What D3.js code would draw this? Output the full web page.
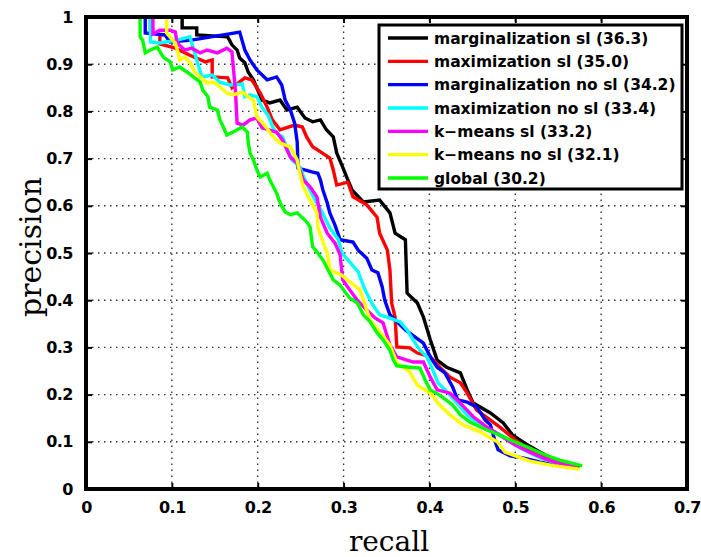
<!DOCTYPE html>
<html>
<head>
<meta charset="utf-8">
<script src="https://cdn.jsdelivr.net/npm/d3@7"></script>
<style>
  html, body { margin: 0; padding: 0; background: #fff; }
  svg { display: block; }
</style>
</head>
<body>
<svg id="chart" width="701" height="557"></svg>
<script>
// Precision-recall curves, one [recall, precision] list per method.
const margSl = [[0,1],[0.112,1],[0.112,0.977],[0.129,0.977],[0.129,0.962],[0.165,0.958],[0.170,0.941],[0.176,0.930],[0.179,0.913],[0.185,0.903],[0.189,0.883],[0.195,0.867],[0.200,0.845],[0.205,0.824],[0.214,0.818],[0.226,0.824],[0.234,0.803],[0.246,0.809],[0.255,0.786],[0.264,0.778],[0.273,0.782],[0.280,0.761],[0.288,0.746],[0.292,0.712],[0.298,0.686],[0.304,0.659],[0.310,0.633],[0.323,0.608],[0.342,0.612],[0.354,0.585],[0.360,0.542],[0.372,0.528],[0.374,0.415],[0.386,0.394],[0.393,0.364],[0.401,0.316],[0.409,0.273],[0.420,0.258],[0.436,0.246],[0.444,0.210],[0.451,0.182],[0.471,0.161],[0.486,0.140],[0.497,0.114],[0.511,0.097],[0.529,0.078],[0.546,0.061],[0.564,0.051],[0.575,0.047]];
const maxSl = [[0,1],[0.075,1],[0.075,0.972],[0.086,0.962],[0.086,0.943],[0.104,0.934],[0.121,0.919],[0.139,0.905],[0.147,0.909],[0.147,0.873],[0.165,0.871],[0.170,0.850],[0.185,0.871],[0.193,0.867],[0.203,0.839],[0.211,0.809],[0.217,0.782],[0.226,0.761],[0.243,0.771],[0.252,0.767],[0.257,0.746],[0.264,0.725],[0.275,0.712],[0.284,0.701],[0.288,0.676],[0.292,0.644],[0.305,0.650],[0.311,0.619],[0.327,0.602],[0.339,0.576],[0.342,0.542],[0.351,0.506],[0.354,0.464],[0.356,0.394],[0.360,0.364],[0.362,0.301],[0.377,0.299],[0.386,0.288],[0.401,0.280],[0.412,0.258],[0.424,0.237],[0.436,0.225],[0.444,0.203],[0.455,0.167],[0.471,0.146],[0.482,0.131],[0.500,0.104],[0.517,0.083],[0.535,0.066],[0.552,0.055],[0.573,0.047]];
const margNoSl = [[0,1],[0.069,1],[0.069,0.966],[0.092,0.962],[0.098,0.947],[0.123,0.951],[0.179,0.968],[0.185,0.930],[0.191,0.909],[0.199,0.888],[0.211,0.867],[0.222,0.873],[0.228,0.856],[0.232,0.824],[0.238,0.803],[0.243,0.775],[0.246,0.735],[0.247,0.680],[0.263,0.672],[0.270,0.669],[0.273,0.655],[0.276,0.633],[0.281,0.606],[0.284,0.585],[0.290,0.559],[0.296,0.528],[0.311,0.523],[0.317,0.506],[0.327,0.489],[0.333,0.464],[0.340,0.458],[0.345,0.428],[0.348,0.400],[0.354,0.369],[0.372,0.337],[0.393,0.309],[0.401,0.280],[0.409,0.258],[0.418,0.246],[0.427,0.216],[0.433,0.189],[0.444,0.184],[0.455,0.174],[0.465,0.146],[0.471,0.136],[0.476,0.104],[0.480,0.083],[0.494,0.070],[0.509,0.066],[0.529,0.057],[0.552,0.049],[0.570,0.045]];
const maxNoSl = [[0,1],[0.075,1],[0.075,0.947],[0.086,0.945],[0.106,0.951],[0.121,0.958],[0.129,0.909],[0.135,0.873],[0.147,0.877],[0.156,0.862],[0.168,0.856],[0.182,0.858],[0.185,0.831],[0.191,0.835],[0.199,0.831],[0.205,0.809],[0.212,0.792],[0.218,0.765],[0.222,0.754],[0.229,0.746],[0.235,0.718],[0.240,0.697],[0.249,0.682],[0.255,0.655],[0.261,0.633],[0.267,0.612],[0.275,0.587],[0.284,0.553],[0.294,0.528],[0.298,0.500],[0.307,0.481],[0.317,0.460],[0.325,0.422],[0.334,0.390],[0.342,0.369],[0.354,0.362],[0.366,0.354],[0.374,0.337],[0.381,0.316],[0.389,0.294],[0.397,0.280],[0.404,0.252],[0.410,0.225],[0.424,0.199],[0.436,0.174],[0.444,0.157],[0.459,0.136],[0.476,0.121],[0.494,0.104],[0.505,0.087],[0.529,0.066],[0.552,0.053],[0.573,0.045]];
const kmeansSl = [[0,1],[0.078,1],[0.078,0.964],[0.086,0.972],[0.098,0.972],[0.104,0.968],[0.106,0.945],[0.115,0.930],[0.123,0.934],[0.133,0.924],[0.141,0.930],[0.153,0.924],[0.164,0.934],[0.170,0.926],[0.174,0.845],[0.176,0.775],[0.183,0.771],[0.191,0.782],[0.199,0.786],[0.205,0.765],[0.222,0.756],[0.229,0.739],[0.238,0.703],[0.246,0.691],[0.253,0.655],[0.261,0.640],[0.269,0.619],[0.273,0.576],[0.281,0.542],[0.290,0.521],[0.296,0.496],[0.299,0.443],[0.307,0.422],[0.316,0.400],[0.327,0.379],[0.337,0.362],[0.346,0.352],[0.354,0.305],[0.362,0.280],[0.381,0.269],[0.393,0.269],[0.401,0.237],[0.409,0.210],[0.424,0.203],[0.436,0.182],[0.451,0.153],[0.467,0.131],[0.482,0.114],[0.500,0.093],[0.517,0.078],[0.535,0.064],[0.552,0.053],[0.573,0.045]];
const kmeansNoSl = [[0,1],[0.094,1],[0.094,0.966],[0.104,0.945],[0.107,0.926],[0.109,0.909],[0.115,0.915],[0.121,0.903],[0.127,0.883],[0.133,0.873],[0.141,0.860],[0.148,0.862],[0.156,0.852],[0.164,0.839],[0.171,0.835],[0.182,0.841],[0.191,0.828],[0.195,0.824],[0.199,0.788],[0.206,0.775],[0.218,0.746],[0.226,0.733],[0.238,0.725],[0.246,0.697],[0.249,0.669],[0.253,0.640],[0.261,0.612],[0.269,0.585],[0.270,0.555],[0.275,0.528],[0.281,0.500],[0.284,0.464],[0.298,0.453],[0.307,0.439],[0.319,0.422],[0.325,0.390],[0.331,0.358],[0.342,0.333],[0.354,0.305],[0.362,0.267],[0.377,0.248],[0.386,0.220],[0.401,0.203],[0.412,0.178],[0.424,0.157],[0.439,0.136],[0.459,0.121],[0.479,0.100],[0.488,0.078],[0.500,0.070],[0.517,0.059],[0.546,0.049],[0.575,0.042]];
const globalPr = [[0,1],[0.063,1],[0.063,0.958],[0.066,0.951],[0.069,0.924],[0.075,0.930],[0.083,0.936],[0.090,0.915],[0.098,0.905],[0.101,0.888],[0.109,0.894],[0.118,0.883],[0.125,0.873],[0.133,0.862],[0.136,0.845],[0.142,0.831],[0.144,0.809],[0.153,0.803],[0.156,0.782],[0.160,0.767],[0.164,0.750],[0.171,0.756],[0.182,0.767],[0.188,0.756],[0.189,0.733],[0.191,0.712],[0.195,0.697],[0.199,0.676],[0.203,0.661],[0.211,0.669],[0.214,0.655],[0.222,0.627],[0.226,0.606],[0.232,0.587],[0.238,0.581],[0.246,0.585],[0.257,0.566],[0.261,0.555],[0.264,0.513],[0.270,0.500],[0.276,0.485],[0.282,0.464],[0.288,0.443],[0.296,0.432],[0.302,0.417],[0.307,0.405],[0.316,0.394],[0.323,0.369],[0.331,0.354],[0.339,0.331],[0.346,0.316],[0.354,0.294],[0.358,0.273],[0.362,0.261],[0.377,0.258],[0.389,0.256],[0.395,0.231],[0.401,0.210],[0.412,0.199],[0.427,0.178],[0.436,0.157],[0.447,0.142],[0.467,0.125],[0.482,0.114],[0.494,0.104],[0.514,0.089],[0.535,0.072],[0.552,0.061],[0.578,0.049]];

// Legend entries, in plotting order.
const seriesNames = ["marginalization sl (36.3)", "maximization sl (35.0)", "marginalization no sl (34.2)", "maximization no sl (33.4)", "k\u2212means sl (33.2)", "k\u2212means no sl (32.1)", "global (30.2)"];
const seriesData = [margSl, maxSl, margNoSl, maxNoSl, kmeansSl, kmeansNoSl, globalPr];
const seriesColors = ["#000000", "#ff0000", "#0000ff", "#00ffff", "#ff00ff", "#ffff00", "#00ff00"];

const xTicks = [0, 0.1, 0.2, 0.3, 0.4, 0.5, 0.6, 0.7];
const xTickLabels = ["0", "0.1", "0.2", "0.3", "0.4", "0.5", "0.6", "0.7"];
const yTicks = [0, 0.1, 0.2, 0.3, 0.4, 0.5, 0.6, 0.7, 0.8, 0.9, 1];
const yTickLabels = ["0", "0.1", "0.2", "0.3", "0.4", "0.5", "0.6", "0.7", "0.8", "0.9", "1"];

const svg = d3.select("#chart");
const L = 86, R = 687, T = 17, B = 489;

const x = d3.scaleLinear().domain([0, 0.7]).range([L, R]);
const y = d3.scaleLinear().domain([0, 1]).range([B, T]);

const tickFont = "bold 16px 'DejaVu Sans', sans-serif";

// dotted grid
const grid = svg.append("g").attr("stroke", "#333").attr("stroke-width", 1.4)
  .attr("stroke-dasharray", "1.5,4.5");
grid.selectAll("line.gx").data(xTicks.slice(1, -1)).join("line").attr("class", "gx")
  .attr("x1", d => x(d)).attr("x2", d => x(d)).attr("y1", B).attr("y2", T);
grid.selectAll("line.gy").data(yTicks.slice(1, -1)).join("line").attr("class", "gy")
  .attr("y1", d => y(d)).attr("y2", d => y(d)).attr("x1", L).attr("x2", R);

// curves
const line = d3.line().x(d => x(d[0])).y(d => y(d[1]));
svg.append("g").attr("fill", "none").attr("stroke-width", 3.4)
  .attr("stroke-linejoin", "miter").attr("stroke-miterlimit", 2)
  .selectAll("path").data(seriesData).join("path")
  .attr("stroke", (d, i) => seriesColors[i])
  .attr("d", line);

// axes with inward ticks on all four sides
const axisB = d3.axisBottom(x).tickValues(xTicks).tickFormat((d, i) => xTickLabels[i])
  .tickSizeInner(-6).tickSizeOuter(0).tickPadding(13);
const axisT = d3.axisTop(x).tickValues(xTicks).tickFormat("").tickSizeInner(-6).tickSizeOuter(0);
const axisL = d3.axisLeft(y).tickValues(yTicks).tickFormat((d, i) => yTickLabels[i])
  .tickSizeInner(-6).tickSizeOuter(0).tickPadding(13);
const axisR = d3.axisRight(y).tickValues(yTicks).tickFormat("").tickSizeInner(-6).tickSizeOuter(0);

function styleAxis(g) {
  g.select(".domain").remove();
  g.selectAll(".tick line").attr("stroke", "#000").attr("stroke-width", 2);
  g.selectAll(".tick text").style("font", tickFont).attr("fill", "#000")
    .attr("letter-spacing", "-0.5");
}
svg.append("g").attr("transform", `translate(0,${B})`).call(axisB).call(styleAxis);
svg.append("g").attr("transform", `translate(0,${T})`).call(axisT).call(styleAxis);
svg.append("g").attr("transform", `translate(${L},0)`).call(axisL).call(styleAxis);
svg.append("g").attr("transform", `translate(${R},0)`).call(axisR).call(styleAxis);

// frame
svg.append("rect").attr("x", L).attr("y", T).attr("width", R - L).attr("height", B - T)
  .attr("fill", "none").attr("stroke", "#000").attr("stroke-width", 4);

// axis titles
svg.append("text").attr("x", 389).attr("y", 551).attr("text-anchor", "middle")
  .style("font", "28px 'DejaVu Serif', serif").text("recall");
svg.append("text").attr("transform", "translate(41,247) rotate(-90)").attr("text-anchor", "middle")
  .style("font", "30px 'DejaVu Serif', serif").text("precision");

// legend
const lg = svg.append("g");
lg.append("rect").attr("x", 379).attr("y", 25).attr("width", 303).attr("height", 164)
  .attr("fill", "#fff").attr("stroke", "#000").attr("stroke-width", 3);
const rowY = d3.scaleLinear().domain([0, 6]).range([38, 178]);
const rows = lg.selectAll("g.row").data(seriesNames).join("g").attr("class", "row")
  .attr("transform", (d, i) => `translate(0,${rowY(i)})`);
rows.append("line").attr("x1", 388).attr("x2", 428).attr("y1", 0).attr("y2", 0)
  .attr("stroke", (d, i) => seriesColors[i]).attr("stroke-width", 3.4);
rows.append("text").attr("x", 434).attr("y", 5.5)
  .style("font", "bold 15.5px 'DejaVu Sans', sans-serif").text(d => d);
</script>
</body>
</html>
